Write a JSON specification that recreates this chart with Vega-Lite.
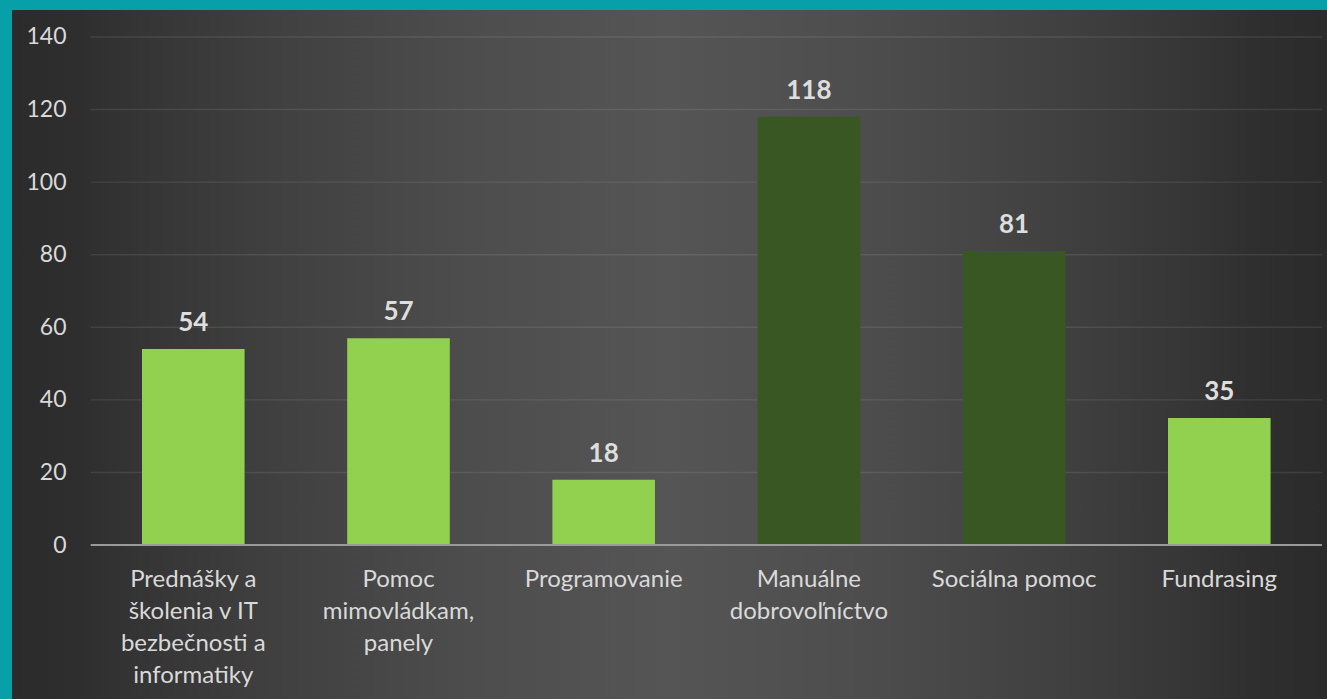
{
  "$schema": "https://vega.github.io/schema/vega-lite/v6.json",
  "width": 1315,
  "height": 689,
  "autosize": {"type": "none"},
  "padding": {"left": 12, "top": 10, "right": 0, "bottom": 0},
  "background": "#08a0a8",
  "view": {
    "stroke": null,
    "fill": {
      "gradient": "linear", "x1": 0, "y1": 0, "x2": 1, "y2": 0,
      "stops": [
        {"offset": 0, "color": "#2b2b2b"},
        {"offset": 0.05, "color": "#2e2e2e"},
        {"offset": 0.1, "color": "#353535"},
        {"offset": 0.2, "color": "#404040"},
        {"offset": 0.35, "color": "#4d4d4d"},
        {"offset": 0.5, "color": "#555555"},
        {"offset": 0.65, "color": "#4d4d4d"},
        {"offset": 0.8, "color": "#404040"},
        {"offset": 0.9, "color": "#353535"},
        {"offset": 0.95, "color": "#2e2e2e"},
        {"offset": 1, "color": "#2b2b2b"}
      ]
    }
  },
  "config": {"font": "Lato"},
  "data": {
    "values": [
      {"oblast": "Prednášky a školenia v IT bezbečnosti a informatiky", "pocet": 54},
      {"oblast": "Pomoc mimovládkam, panely", "pocet": 57},
      {"oblast": "Programovanie", "pocet": 18},
      {"oblast": "Manuálne dobrovoľníctvo", "pocet": 118},
      {"oblast": "Sociálna pomoc", "pocet": 81},
      {"oblast": "Fundrasing", "pocet": 35}
    ]
  },
  "layer": [
    {
      "data": {"values": [{"tick": 20}, {"tick": 40}, {"tick": 60}, {"tick": 80}, {"tick": 100}, {"tick": 120}, {"tick": 140}]},
      "mark": {"type": "rule", "stroke": "#ffffff", "strokeOpacity": 0.09, "strokeWidth": 1.4},
      "encoding": {
        "y": {"field": "tick", "type": "quantitative", "title": null},
        "x": {"datum": "Prednášky a školenia v IT bezbečnosti a informatiky", "type": "nominal", "bandPosition": -0.5, "title": null},
        "x2": {"datum": "Fundrasing", "bandPosition": 1.5}
      }
    },
    {
      "mark": {"type": "bar"},
      "encoding": {
        "x": {
          "field": "oblast", "type": "nominal", "sort": null, "title": null,
          "scale": {
            "domain": ["Prednášky a školenia v IT bezbečnosti a informatiky", "Pomoc mimovládkam, panely", "Programovanie", "Manuálne dobrovoľníctvo", "Sociálna pomoc", "Fundrasing"],
            "paddingInner": 0.5, "paddingOuter": 0.4542, "align": 0.6974
          },
          "axis": {
            "orient": "bottom", "offset": -154, "domain": false, "ticks": false,
            "labelPadding": 34, "labelAngle": 0, "labelFontSize": 24, "labelColor": "#d9d9d9",
            "labelLineHeight": 32, "labelLimit": 0, "labelOverlap": false, "labelAlign": "center",
            "labelExpr": "datum.value == 'Prednášky a školenia v IT bezbečnosti a informatiky' ? ['Prednášky a', 'školenia v IT', 'bezbečnosti a', 'informatiky'] : datum.value == 'Pomoc mimovládkam, panely' ? ['Pomoc', 'mimovládkam,', 'panely'] : datum.value == 'Manuálne dobrovoľníctvo' ? ['Manuálne', 'dobrovoľníctvo'] : datum.label"
          }
        },
        "y": {
          "field": "pocet", "type": "quantitative", "title": null,
          "scale": {"domain": [-42.44, 147.44], "nice": false, "zero": false},
          "axis": {
            "orient": "left", "offset": -54, "domain": false, "ticks": false, "grid": false,
            "values": [0, 20, 40, 60, 80, 100, 120, 140],
            "labelPadding": 0, "labelFontSize": 23, "labelColor": "#d9d9d9"
          }
        },
        "y2": {"datum": 0},
        "color": {"condition": {"test": "datum.pocet > 70", "value": "#385723"}, "value": "#92d050"}
      }
    },
    {
      "data": {"values": [{"base": 0}]},
      "mark": {"type": "rule", "stroke": "#9a9a9a", "strokeWidth": 1.8},
      "encoding": {
        "y": {"field": "base", "type": "quantitative", "title": null},
        "x": {"datum": "Prednášky a školenia v IT bezbečnosti a informatiky", "type": "nominal", "bandPosition": -0.5, "title": null},
        "x2": {"datum": "Fundrasing", "bandPosition": 1.5}
      }
    },
    {
      "mark": {"type": "text", "fontWeight": "bold", "fontSize": 26, "color": "#dedede", "baseline": "alphabetic", "dy": -18},
      "encoding": {
        "x": {"field": "oblast", "type": "nominal", "sort": null, "title": null},
        "y": {"field": "pocet", "type": "quantitative", "title": null},
        "text": {"field": "pocet", "type": "quantitative"}
      }
    }
  ]
}
